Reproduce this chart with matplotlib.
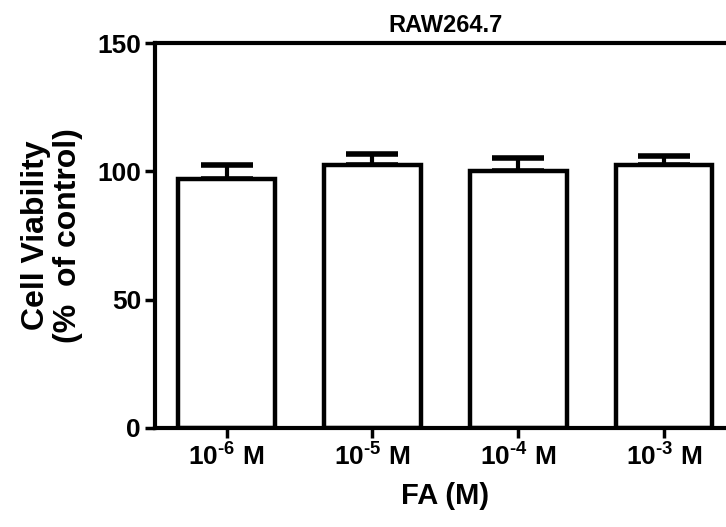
import matplotlib
matplotlib.use('Agg')
import matplotlib.pyplot as plt
import numpy as np

plt.rcParams['font.family'] = 'Liberation Sans'
plt.rcParams['font.weight'] = 'bold'
plt.rcParams['mathtext.fontset'] = 'custom'
plt.rcParams['mathtext.rm'] = 'Liberation Sans:bold'
plt.rcParams['mathtext.it'] = 'Liberation Sans:bold'
plt.rcParams['mathtext.bf'] = 'Liberation Sans:bold'

# data
labels = [r'$\mathrm{10^{\text{-}6}}$ M', r'$\mathrm{10^{\text{-}5}}$ M',
          r'$\mathrm{10^{\text{-}4}}$ M', r'$\mathrm{10^{\text{-}3}}$ M']
viability = [97.0, 102.7, 100.3, 102.5]
sem = [5.7, 4.0, 5.1, 3.4]

fig = plt.figure(figsize=(7.26, 5.27), dpi=100)
ax = fig.add_axes([0.2135, 0.188, 0.80, 0.730])

x = np.arange(len(viability))
ax.bar(x, viability, width=0.66, color='white', edgecolor='black', linewidth=3.2, zorder=2)
ax.errorbar(x, viability, yerr=[np.zeros(len(sem)), sem], fmt='none', ecolor='black',
            elinewidth=3, capsize=19, capthick=4, zorder=1)

ax.set_xlim(-0.49, 3.49)
ax.set_ylim(0, 150)
ax.set_yticks([0, 50, 100, 150])
ax.set_xticks(x)
ax.set_xticklabels(labels, fontsize=19)
ax.tick_params(axis='y', labelsize=19, width=2.5, length=7, direction='out', pad=3)
ax.tick_params(axis='x', width=2.5, length=7, direction='out', pad=4)
for s in ['left', 'bottom', 'top']:
    ax.spines[s].set_linewidth(3)
ax.spines['right'].set_visible(False)

ax.set_title('RAW264.7', fontsize=17, fontweight='bold', pad=8)
ax.set_xlabel('FA (M)', fontsize=21, fontweight='bold', labelpad=8)
ax.set_ylabel('Cell Viability\n(%  of control)', fontsize=23, fontweight='bold', labelpad=10,
              linespacing=1.1)

fig.savefig('out.png', dpi=100)
